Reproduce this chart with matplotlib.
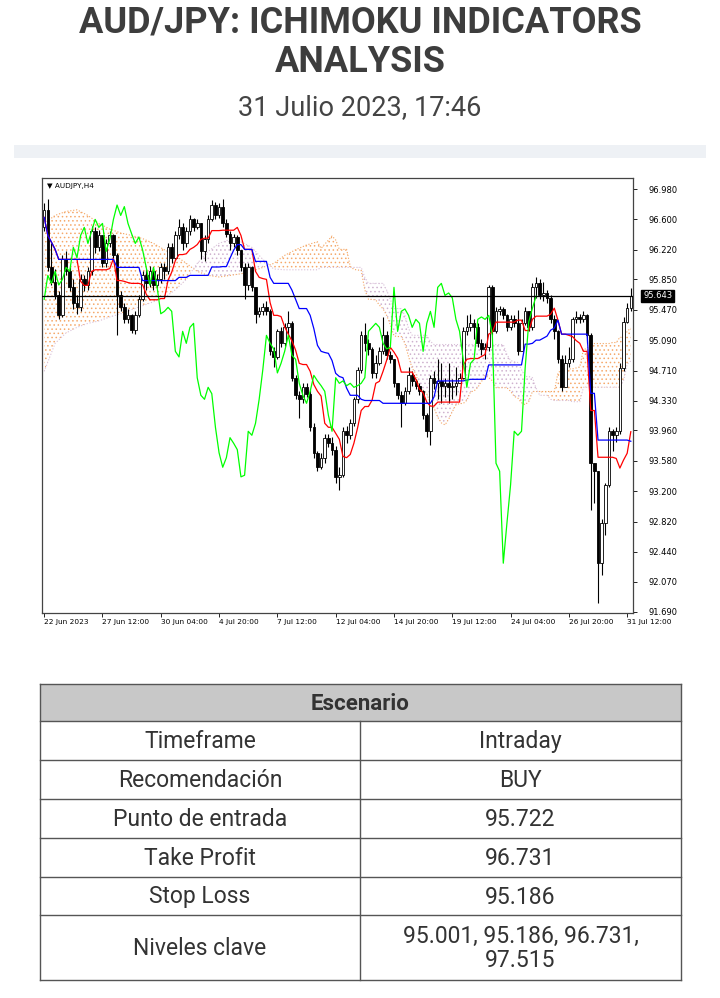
import numpy as np
import pandas as pd
import matplotlib
matplotlib.use("Agg")
import matplotlib.pyplot as plt
from matplotlib.patches import Rectangle

# ---- data: AUDJPY H4 candles (open of each bar = previous close) ----
first_open = 96.50
close = [96.72, 96.00, 95.82, 95.65, 95.40, 96.10, 95.95, 95.75, 95.55, 95.50,
         95.85, 95.78, 95.95, 96.45, 96.25, 96.40, 96.05, 96.30, 96.40, 96.15,
         95.65, 95.50, 95.35, 95.40, 95.22, 95.40, 95.60, 95.90, 95.80, 95.95,
         95.78, 95.85, 96.00, 95.95, 96.25, 96.12, 96.40, 96.50, 96.30, 96.45,
         96.60, 96.50, 96.55, 96.20, 96.35, 96.60, 96.78, 96.65, 96.76, 96.55,
         96.42, 96.30, 96.38, 96.22, 96.00, 95.78, 96.00, 95.75, 95.42, 95.45,
         95.50, 95.45, 94.95, 94.88, 95.20, 95.05, 95.25, 95.30, 94.62, 94.40,
         94.35, 94.50, 94.42, 94.00, 93.68, 93.50, 93.62, 93.87, 93.80,
         93.72, 93.38, 93.40, 93.95, 93.90, 94.05, 94.35, 94.72, 95.15, 95.05,
         94.98, 94.68, 94.80, 94.95, 95.15, 94.90, 94.85, 94.55, 94.40, 94.30,
         94.45, 94.65, 94.58, 94.52, 94.45, 94.15, 93.95, 94.62, 94.55, 94.58,
         94.52, 94.55, 94.50, 94.52, 94.55, 94.62, 95.20, 95.25, 95.30,
         95.25, 95.05, 94.98, 95.00, 95.75, 95.20, 95.45, 95.48, 95.40, 95.25,
         95.35, 95.30, 94.95, 95.30, 95.45, 95.25, 95.75, 95.80, 95.65, 95.68,
         95.62, 95.35, 95.20, 94.85, 94.50, 94.80, 94.85, 95.35, 95.38, 95.35,
         95.40, 95.15, 93.55, 93.45, 92.30, 92.80, 93.28, 93.95, 93.90, 93.95,
         94.74, 95.32, 95.49, 95.64]
high = [96.80, 96.85, 96.30, 95.98, 95.70, 96.15, 96.20, 96.00, 95.85, 95.65,
        95.92, 95.90, 96.00, 96.52, 96.50, 96.47, 96.38, 96.35, 96.45, 96.42,
        96.18, 95.70, 95.55, 95.48, 95.42, 95.45, 95.65, 95.95, 95.98, 96.02,
        96.00, 95.92, 96.05, 96.05, 96.30, 96.30, 96.45, 96.60, 96.55, 96.50,
        96.65, 96.62, 96.60, 96.55, 96.40, 96.65, 96.84, 96.82, 96.80, 96.85,
        96.60, 96.45, 96.42, 96.40, 96.22, 96.05, 96.05, 96.02, 95.76, 95.50,
        95.55, 95.58, 95.48, 95.00, 95.23, 95.25, 95.30, 95.45, 95.33, 94.65,
        94.45, 94.55, 94.55, 94.48, 94.05, 93.70, 93.68, 93.92, 93.92,
        93.88, 93.76, 93.50, 94.00, 94.02, 94.10, 94.38, 94.76, 95.20, 95.30,
        95.10, 95.00, 94.90, 95.00, 95.38, 95.20, 94.95, 94.86, 94.56, 94.45,
        94.50, 94.75, 94.70, 94.60, 94.55, 94.47, 94.18, 94.65, 94.70, 94.85,
        94.80, 94.62, 94.80, 94.60, 94.75, 94.68, 95.25, 95.40, 95.42,
        95.35, 95.30, 95.10, 95.05, 95.78, 95.78, 95.50, 95.52, 95.50, 95.42,
        95.40, 95.40, 95.47, 95.35, 95.50, 95.45, 95.80, 95.88, 95.85, 95.82,
        95.72, 95.65, 95.40, 95.22, 94.90, 94.90, 95.00, 95.38, 95.45, 95.42,
        95.45, 95.42, 95.18, 93.55, 93.45, 92.85, 93.30, 94.00, 93.98, 94.00,
        94.80, 95.38, 95.55, 95.74]
low = [96.45, 95.95, 95.78, 95.60, 95.35, 95.38, 95.90, 95.70, 95.48, 95.42,
       95.45, 95.70, 95.72, 95.90, 96.18, 96.20, 96.00, 96.00, 96.25, 96.10,
       95.15, 95.45, 95.30, 95.30, 95.18, 95.17, 95.38, 95.58, 95.72, 95.75,
       95.72, 95.74, 95.80, 95.85, 95.92, 96.05, 96.10, 96.35, 96.22, 96.25,
       96.40, 96.45, 96.48, 96.10, 96.08, 96.30, 96.58, 96.60, 96.62, 96.50,
       96.38, 96.22, 96.25, 96.15, 95.95, 95.60, 95.72, 95.70, 95.30, 95.38,
       95.40, 95.40, 94.90, 94.75, 94.85, 95.00, 95.02, 95.15, 94.58, 94.35,
       94.12, 94.30, 94.38, 93.95, 93.62, 93.45, 93.48, 93.55, 93.75,
       93.65, 93.30, 93.22, 93.38, 93.80, 93.85, 94.02, 94.30, 94.68, 94.95,
       94.90, 94.62, 94.62, 94.78, 94.92, 94.85, 94.80, 94.50, 94.35, 94.00,
       94.28, 94.42, 94.52, 94.48, 94.40, 94.10, 93.88, 93.78, 94.48, 94.35,
       94.30, 94.38, 94.30, 94.35, 94.40, 94.55, 94.60, 95.15, 95.20,
       95.10, 95.00, 94.90, 94.85, 94.95, 95.15, 95.18, 95.40, 95.35, 95.20,
       95.22, 95.25, 94.90, 94.95, 95.28, 95.20, 95.22, 95.62, 95.60, 95.58,
       95.55, 95.30, 95.10, 94.80, 94.45, 94.50, 94.75, 94.82, 95.30, 95.30,
       95.32, 95.05, 92.97, 93.05, 91.80, 92.15, 92.65, 93.25, 93.70, 93.82,
       93.92, 94.70, 95.30, 95.45]

# cloud on the left edge (its source bars are off-screen)
cloud_head_bars = [0, 3, 6, 9, 12, 15, 18, 21, 24, 27, 30, 33, 36, 39,
                   42, 45, 48, 51, 54, 57, 60, 63, 66, 69, 72, 75]
cloud_head_a = [96.55, 96.65, 96.70, 96.72, 96.65, 96.55, 96.48, 96.43, 96.40,
                96.36, 96.30, 96.22, 96.15, 96.05, 95.95, 95.90, 95.88, 95.90,
                95.92, 95.95, 96.00, 96.05, 96.15, 96.22, 96.28, 96.32]
cloud_head_b = [94.70, 95.05, 95.18, 95.25, 95.30, 95.33, 95.38, 95.42, 95.47,
                95.52, 95.57, 95.62, 95.72, 95.85, 96.05, 96.20, 96.30, 96.35,
                96.32, 96.25, 96.10, 95.98, 95.97, 95.97, 95.97, 95.97]

bid = 95.643
yticks = [96.980, 96.600, 96.220, 95.850, 95.470, 95.090, 94.710, 94.330,
          93.960, 93.580, 93.200, 92.820, 92.440, 92.070, 91.690]
xtick_bars = [0, 16, 32, 48, 64, 80, 96, 112, 128, 144, 160]
xtick_labels = ['22 Jun 2023', '27 Jun 12:00', '30 Jun 04:00', '4 Jul 20:00',
                '7 Jul 12:00', '12 Jul 04:00', '14 Jul 20:00', '19 Jul 12:00',
                '24 Jul 04:00', '26 Jul 20:00', '31 Jul 12:00']

table_header = 'Escenario'
table_labels = ['Timeframe', 'Recomendación', 'Punto de entrada',
                'Take Profit', 'Stop Loss', 'Niveles clave']
table_values = ['Intraday', 'BUY', '95.722', '96.731', '95.186',
                '95.001, 95.186, 96.731,\n97.515']

# ---- ichimoku from the candles ----
n = len(close)
idx = np.arange(n)
c = np.array(close)
o = np.concatenate([[first_open], c[:-1]])
hi = pd.Series(high)
lo = pd.Series(low)
tenkan = ((hi.rolling(9, min_periods=1).max() + lo.rolling(9, min_periods=1).min()) / 2).values
kijun = ((hi.rolling(26, min_periods=1).max() + lo.rolling(26, min_periods=1).min()) / 2).values
b52 = ((hi.rolling(52, min_periods=1).max() + lo.rolling(52, min_periods=1).min()) / 2).values
tail = np.arange(76, n)
span_a = np.concatenate([cloud_head_a, (tenkan[tail - 26] + kijun[tail - 26]) / 2])
span_b = np.concatenate([cloud_head_b, b52[tail - 26]])
cloud_x = np.concatenate([cloud_head_bars, tail])

plt.rcParams['hatch.linewidth'] = 0.6
fig = plt.figure(figsize=(7.2, 9.98), dpi=100)

# ---- page overlay (title, separator, table) ----
ov = fig.add_axes([0, 0, 1, 1])
ov.set_xlim(0, 720)
ov.set_ylim(998, 0)
ov.axis('off')
ov.text(360, 22, 'AUD/JPY: ICHIMOKU INDICATORS', ha='center', va='center',
        fontsize=26, fontweight='bold', family='Roboto', color='#3d3d3d')
ov.text(360, 62, 'ANALYSIS', ha='center', va='center',
        fontsize=26, fontweight='bold', family='Roboto', color='#3d3d3d')
ov.text(360, 108, '31 Julio 2023, 17:46', ha='center', va='center',
        fontsize=19.5, family='Roboto', color='#444444')
ov.add_patch(Rectangle((14, 145), 692, 13, color='#eef1f5', lw=0))

rows = [684, 721, 760, 799, 838, 877, 915, 980]
x0, xm, x1 = 40, 360, 681
ov.add_patch(Rectangle((x0, rows[0]), x1 - x0, rows[1] - rows[0],
                       facecolor='#c8c8c8', edgecolor='none'))
for y in rows:
    ov.plot([x0, x1], [y, y], color='#555555', lw=1)
ov.plot([x0, x0], [rows[0], rows[-1]], color='#555555', lw=1)
ov.plot([x1, x1], [rows[0], rows[-1]], color='#555555', lw=1)
ov.plot([xm, xm], [rows[1], rows[-1]], color='#555555', lw=1)
ov.text((x0 + x1) / 2, (rows[0] + rows[1]) / 2 + 1, table_header, ha='center',
        va='center', fontsize=16, fontweight='bold', family='Roboto', color='#333333')
for i, (lab, val) in enumerate(zip(table_labels, table_values)):
    ym = (rows[i + 1] + rows[i + 2]) / 2 + 1
    ov.text((x0 + xm) / 2, ym, lab, ha='center', va='center', fontsize=16.5,
            family='Roboto', color='#333333')
    ov.text((xm + x1) / 2, ym, val, ha='center', va='center', fontsize=16.5,
            family='Roboto', color='#333333', linespacing=1.05)

# ---- MT4 style chart ----
ax = fig.add_axes([42 / 720, 1 - 613 / 998, 591 / 720, 435 / 998])
ax.set_facecolor('white')

ax.fill_between(cloud_x, span_a, span_b, where=span_a >= span_b, interpolate=True,
                facecolor='none', edgecolor=(0.96, 0.64, 0.38, 0.9), hatch='....',
                lw=0, zorder=1)
ax.fill_between(cloud_x, span_a, span_b, where=span_a < span_b, interpolate=True,
                facecolor='none', edgecolor=(0.80, 0.68, 0.80, 0.9), hatch='....',
                lw=0, zorder=1)
ax.plot(cloud_x, span_a, color='#f4a460', lw=0.8, ls=':', zorder=1)
ax.plot(cloud_x, span_b, color='#d8bfd8', lw=0.8, ls=':', zorder=1)

ax.vlines(idx, low, high, color='black', lw=0.8, zorder=2)
bull = c >= o
body = np.maximum(np.abs(c - o), 0.012)
bottom = np.minimum(o, c)
ax.bar(idx[bull], body[bull], bottom=bottom[bull], width=0.72,
       facecolor='white', edgecolor='black', lw=0.6, zorder=3)
ax.bar(idx[~bull], body[~bull], bottom=bottom[~bull], width=0.72,
       facecolor='black', edgecolor='black', lw=0.6, zorder=3)

ax.plot(idx, tenkan, color='#ff0000', lw=0.9, zorder=4)
ax.plot(idx, kijun, color='#0000ff', lw=0.9, zorder=4)
ax.plot(idx[:-26], c[26:], color='#00ff00', lw=0.9, zorder=4)
ax.axhline(bid, color='black', lw=0.9, zorder=5)

ax.set_xlim(-0.6, n - 0.4)
ax.set_ylim(91.677, 97.118)
ax.yaxis.tick_right()
ax.set_yticks(yticks)
ax.set_yticklabels(['%.3f' % v for v in yticks])
ax.set_xticks(xtick_bars)
ax.set_xticklabels(xtick_labels)
for t in ax.get_xticklabels():
    t.set_ha('left')
ax.tick_params(axis='x', labelsize=5.3, length=3, width=0.6, pad=1.5, colors='black')
ax.tick_params(axis='y', labelsize=6.0, length=3, width=0.6, pad=8, colors='black')
for s in ax.spines.values():
    s.set_color('#444444')
    s.set_linewidth(0.9)

ax.text(1.017, bid, '95.643', transform=ax.get_yaxis_transform(), fontsize=6.0,
        color='white', va='center', ha='left', zorder=6,
        bbox=dict(boxstyle='square,pad=0.2', facecolor='black', edgecolor='black'))
ax.text(0.008, 0.988, '\u25bc AUDJPY,H4', transform=ax.transAxes, fontsize=5.2,
        va='top', ha='left', color='black')

fig.savefig('out.png', dpi=100, facecolor='white')
